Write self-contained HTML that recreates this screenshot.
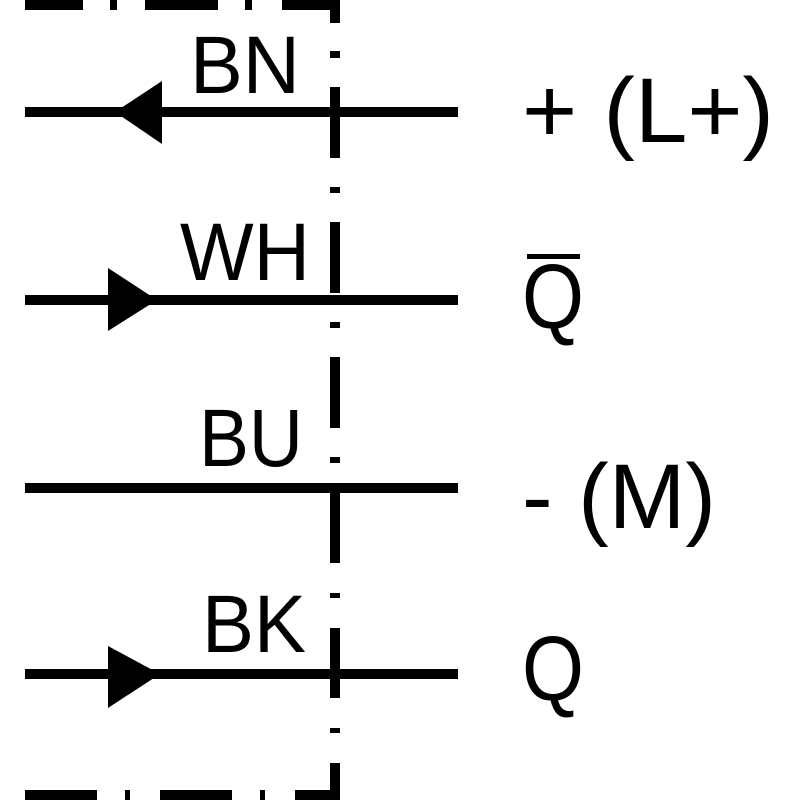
<!DOCTYPE html>
<html><head><style>html,body{margin:0;padding:0;background:#fff}svg{display:block}
text{font-family:"Liberation Sans",Arial,sans-serif}</style></head>
<body>
<svg width="800" height="800" viewBox="0 0 800 800" xmlns="http://www.w3.org/2000/svg">
<g stroke="#000" stroke-width="10" fill="none">
<line x1="25" y1="5" x2="83" y2="5"/>
<line x1="110" y1="5" x2="117" y2="5"/>
<line x1="145" y1="5" x2="218" y2="5"/>
<line x1="245" y1="5" x2="252" y2="5"/>
<line x1="282" y1="5" x2="340" y2="5"/>
<line x1="25" y1="795" x2="97" y2="795"/>
<line x1="125" y1="795" x2="130" y2="795"/>
<line x1="160" y1="795" x2="232" y2="795"/>
<line x1="260" y1="795" x2="265" y2="795"/>
<line x1="295" y1="795" x2="340" y2="795"/>
<line x1="335" y1="0" x2="335" y2="23"/>
<line x1="335" y1="51" x2="335" y2="58"/>
<line x1="335" y1="87" x2="335" y2="158"/>
<line x1="335" y1="187" x2="335" y2="193"/>
<line x1="335" y1="222" x2="335" y2="293"/>
<line x1="335" y1="322" x2="335" y2="328"/>
<line x1="335" y1="357" x2="335" y2="428"/>
<line x1="335" y1="457" x2="335" y2="463"/>
<line x1="335" y1="492" x2="335" y2="563"/>
<line x1="335" y1="593" x2="335" y2="598"/>
<line x1="335" y1="628" x2="335" y2="698"/>
<line x1="335" y1="728" x2="335" y2="733"/>
<line x1="335" y1="763" x2="335" y2="800"/>
<line x1="25" y1="112" x2="458" y2="112"/>
<line x1="25" y1="300" x2="458" y2="300"/>
<line x1="25" y1="488" x2="458" y2="488"/>
<line x1="25" y1="674" x2="458" y2="674"/>
</g>
<g fill="#000">
<polygon points="115,112 162,81 162,144"/>
<polygon points="108,268 157,300 108,331"/>
<polygon points="108,646 160,674 108,708"/>
<rect x="527" y="254" width="53" height="5"/>
</g>
<g fill="#000">
<text x="190" y="93" font-size="82" textLength="110" lengthAdjust="spacingAndGlyphs">BN</text>
<text x="180" y="280" font-size="82" textLength="130" lengthAdjust="spacingAndGlyphs">WH</text>
<text x="199" y="466" font-size="82" textLength="104" lengthAdjust="spacingAndGlyphs">BU</text>
<text x="202" y="652" font-size="82" textLength="104" lengthAdjust="spacingAndGlyphs">BK</text>
<text x="522" y="142" font-size="92" textLength="252" lengthAdjust="spacingAndGlyphs">+ (L+)</text>
<text x="522" y="328" font-size="92" textLength="62" lengthAdjust="spacingAndGlyphs">Q</text>
<text x="522" y="528" font-size="92" textLength="194" lengthAdjust="spacingAndGlyphs">- (M)</text>
<text x="522" y="700" font-size="92" textLength="62" lengthAdjust="spacingAndGlyphs">Q</text>
</g>
</svg>
</body></html>
